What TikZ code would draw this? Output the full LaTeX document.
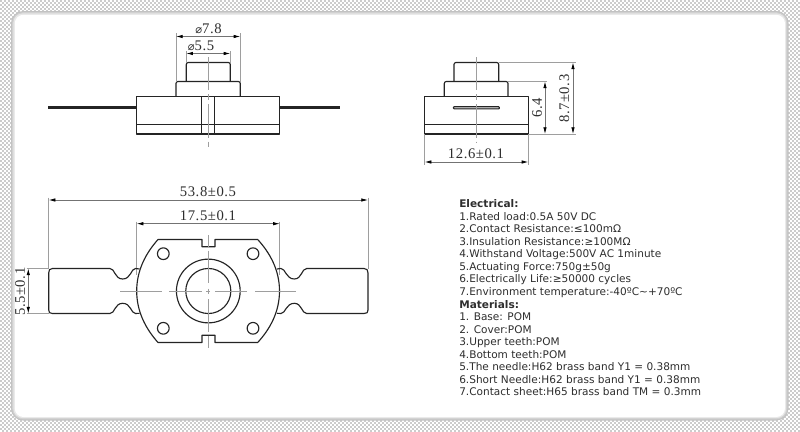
\documentclass[tikz,border=0pt]{standalone}
\usepackage{fontspec}
\setmainfont{Liberation Serif}
\newfontfamily\verd{DejaVu Sans}
\newfontfamily\dimf[LetterSpace=4]{Liberation Serif}
\usetikzlibrary{arrows.meta}
\definecolor{checkg}{gray}{0.80}
\definecolor{lineg}{gray}{0.14}
\definecolor{dimg}{gray}{0.62}
\definecolor{txtg}{gray}{0.18}
\newcommand{\diam}{{\verd\fontsize{8.5pt}{9pt}\selectfont ⌀}}
\tikzset{x=0.75pt,y=-0.75pt,
 part/.style={draw=lineg,line width=0.85pt,line join=round},
 wire/.style={draw=lineg,line width=1.6pt},
 ext/.style={draw=dimg,line width=0.6pt},
 center/.style={draw=dimg,line width=0.6pt,dash pattern=on 25pt off 3pt on 4.5pt off 3pt},
 dimen/.style={draw=black!55,line width=0.55pt,{Latex[length=5pt,width=2.6pt,black]}-{Latex[length=5pt,width=2.6pt,black]}},
 dimlab/.style={font=\dimf\fontsize{11pt}{13pt}\selectfont,text=txtg,inner sep=0pt},
 spec/.style={font=\verd\fontsize{7.9pt}{10pt}\selectfont,text=txtg,inner sep=0pt,anchor=base west},
 spechead/.style={spec,font=\verd\bfseries\fontsize{7.9pt}{10pt}\selectfont},
 rowa/.style={draw=checkg,line width=1.5pt,dash pattern=on 1.5pt off 1.5pt},
 rowb/.style={rowa,dash phase=1.5pt},
}
\begin{document}
\begin{tikzpicture}
\useasboundingbox (0,0) rectangle (800,432);
% textured surround
\fill[white] (0,0) rectangle (800,432);
\foreach \r in {1,5,...,429} \draw[rowa] (0,\r) -- (800,\r);
\foreach \r in {3,7,...,431} \draw[rowb] (0,\r) -- (800,\r);
% panel with soft edge
\fill[black!24,rounded corners=9pt] (11,11) rectangle (788.5,420.5);
\fill[black!18,rounded corners=8pt] (12.2,12.2) rectangle (787.3,419.3);
\fill[black!9,rounded corners=7pt] (13.4,13.4) rectangle (786.1,418.1);
\fill[white,rounded corners=6.5pt] (14.8,14.8) rectangle (785,417);

% ---- front view
\draw[wire] (48,107.5) -- (137,107.5);
\draw[wire] (280,107.5) -- (340,107.5);
\draw[part,rounded corners=1.5pt] (176,96.5) -- (176,81.5) -- (240.3,81.5) -- (240.3,96.5);
\draw[part,rounded corners=1.5pt] (186.3,81.5) -- (186.3,62.5) -- (230.3,62.5) -- (230.3,81.5);
\draw[part,fill=white] (136.7,96.5) rectangle (279.3,134);
\draw[part] (136.7,124.5) -- (279.3,124.5);
\draw[part] (201.7,96.5) -- (201.7,134);
\draw[part] (214.7,96.5) -- (214.7,134);
\draw[center] (208,57) -- (208,147);
\coordinate (d78a) at (176,36.5);\coordinate (d78b) at (240.3,36.5);
\coordinate (d55a) at (186.3,53.5);\coordinate (d55b) at (230.3,53.5);
\draw[ext] (176,33) -- (176,81.5);
\draw[ext] (240.3,33) -- (240.3,81.5);
\draw[ext] (186.3,51) -- (186.3,62.5);
\draw[ext] (230.3,51) -- (230.3,62.5);
\draw[dimen] (d78a) -- (d78b);
\draw[dimen] (d55a) -- (d55b);
\node[dimlab] (l78) at (208.5,29) {\diam 7.8};
\node[dimlab] (l55) at (201,45.7) {\diam 5.5};

% ---- side view
\draw[part,rounded corners=1.5pt] (444.3,96.5) -- (444.3,81.5) -- (508,81.5) -- (508,96.5);
\draw[part,rounded corners=1.5pt] (454,81.5) -- (454,62.5) -- (498.7,62.5) -- (498.7,81.5);
\draw[part,fill=white] (424.7,96.5) rectangle (528.3,134);
\draw[part] (424.7,124.5) -- (528.3,124.5);
\draw[draw=lineg,line width=0.8pt,fill=black!25,rounded corners=0.5pt] (453.5,106.7) rectangle (499.3,108.9);
\draw[center] (476.3,57) -- (476.3,143);
\draw[ext] (498.7,62.5) -- (575.7,62.5);
\draw[ext] (508,81.5) -- (547,81.5);
\draw[ext] (528.3,134) -- (575.7,134);
\draw[ext] (424.7,134) -- (424.7,165);
\draw[ext] (528.3,134) -- (528.3,165);
\coordinate (h1a) at (573,62.5);\coordinate (h1b) at (573,134);
\coordinate (h2a) at (545,81.5);\coordinate (h2b) at (545,134);
\coordinate (w1a) at (424.7,162);\coordinate (w1b) at (528.3,162);
\draw[dimen] (h1a) -- (h1b);
\draw[dimen] (h2a) -- (h2b);
\draw[dimen] (w1a) -- (w1b);
\node[dimlab,rotate=90] (l87) at (564.3,98.7) {8.7±0.3};
\node[dimlab,rotate=90] (l64) at (537,107.8) {6.4};
\node[dimlab] (l126) at (476,154) {12.6±0.1};

% ---- plan view dimensions
\draw[ext] (48.7,197.7) -- (48.7,269);
\draw[ext] (368,197.7) -- (368,269);
\draw[ext] (136.7,221.5) -- (136.7,275);
\draw[ext] (279.7,221.5) -- (279.7,275);
\draw[ext] (26.5,268.5) -- (48.7,268.5);
\draw[ext] (26.5,313.5) -- (48.7,313.5);
\coordinate (wa) at (48.7,200);\coordinate (wb) at (368,200);
\coordinate (ia) at (136.7,223.7);\coordinate (ib) at (279.7,223.7);
\coordinate (sa) at (28.3,268.5);\coordinate (sb) at (28.3,313.5);
\draw[dimen] (wa) -- (wb);
\draw[dimen] (ia) -- (ib);
\draw[dimen] (sa) -- (sb);
\node[dimlab] (l538) at (208,191.5) {53.8±0.5};
\node[dimlab] (l175) at (208,216) {17.5±0.1};
\node[dimlab,rotate=90] (l55b) at (20,291.7) {5.5±0.1};

% body outline
\draw[part]
 (158,239.5) -- (202,239.5) -- (202,246.7) -- (215,246.7) -- (215,239.5) -- (257.7,239.5)
 .. controls (270,253) and (279.5,270) .. (279.5,291)
 .. controls (279.5,312) and (270,329) .. (257.7,342.5)
 -- (215,342.5) -- (215,335.3) -- (202,335.3) -- (202,342.5) -- (158,342.5)
 .. controls (146,329) and (136.7,312) .. (136.7,291)
 .. controls (136.7,270) and (146,253) .. (158,239.5) -- cycle;
% left terminal
\draw[part]
 (139.5,269) -- (135.5,268.5) .. controls (131,268.5) and (131,279) .. (122.7,279)
 .. controls (114.5,279) and (115,268.5) .. (110,268.5) -- (52.5,268.5)
 .. controls (49.7,268.5) and (48.7,270) .. (48.7,273) -- (48.7,310)
 .. controls (48.7,312.5) and (49.7,313.5) .. (52.5,313.5) -- (110,313.5)
 .. controls (115,313.5) and (114.5,303.3) .. (122.7,303.3)
 .. controls (131,303.3) and (131,313.5) .. (135.5,313.5) -- (139.5,313.3);
% right terminal
\draw[part]
 (277,269) -- (281,268.5) .. controls (285.5,268.5) and (286,279) .. (294.3,279)
 .. controls (302,279) and (301.5,268.5) .. (306.7,268.5) -- (364,268.5)
 .. controls (367,268.5) and (368,270) .. (368,273) -- (368,310)
 .. controls (368,312.5) and (367,313.5) .. (364,313.5) -- (306.7,313.5)
 .. controls (301.5,313.5) and (302,303.3) .. (294.3,303.3)
 .. controls (286,303.3) and (285.5,313.5) .. (281,313.5) -- (277,313.3);
% holes and bore
\foreach \n/\x/\y in {ha/163.3/253.7,hb/253/253.7,hc/163.3/328.3,hd/253/328.3}
  \node[part,circle,minimum size=8.8pt,inner sep=0pt] (\n) at (\x,\y) {};
\node[part,circle,minimum size=33.8pt,inner sep=0pt] (inner) at (208.3,291) {};
\node[part,circle,minimum size=47.8pt,inner sep=0pt] (outer) at (208.3,291) {};
% centre lines
\draw[ext] (120,291) -- (162,291) (169,291) -- (202,291) (206.3,291) -- (210.3,291) (215,291) -- (247,291) (255,291) -- (296,291);
\draw[ext] (208.3,235) -- (208.3,247) (208.3,250.5) -- (208.3,283) (208.3,288.5) -- (208.3,293.5) (208.3,299) -- (208.3,332) (208.3,335.5) -- (208.3,348);

% ---- text
\node[spechead] (t0) at (459,207.7) {Electrical:};
\node[spec] (t1) at (459,220.2) {1.Rated load:0.5A 50V DC};
\node[spec] (t2) at (459,232.8) {2.Contact Resistance:≤100mΩ};
\node[spec] (t3) at (459,245.3) {3.Insulation Resistance:≥100MΩ};
\node[spec] (t4) at (459,257.8) {4.Withstand Voltage:500V AC 1minute};
\node[spec] (t5) at (459,270.4) {5.Actuating Force:750g±50g};
\node[spec] (t6) at (459,282.9) {6.Electrically Life:≥50000 cycles};
\node[spec] (t7) at (459,295.4) {7.Environment temperature:-40ºC\textasciitilde+70ºC};
\node[spechead] (m0) at (459,308) {Materials:};
\node[spec] (m1) at (459,320.5) {1. Base: POM};
\node[spec] (m2) at (459,333) {2. Cover:POM};
\node[spec] (m3) at (459,345.5) {3.Upper teeth:POM};
\node[spec] (m4) at (459,358) {4.Bottom teeth:POM};
\node[spec] (m5) at (459,370.6) {5.The needle:H62 brass band Y1 = 0.38mm};
\node[spec] (m6) at (459,383.1) {6.Short Needle:H62 brass band Y1 = 0.38mm};
\node[spec] (m7) at (459,395.6) {7.Contact sheet:H65 brass band TM = 0.3mm};
\end{tikzpicture}
\end{document}
